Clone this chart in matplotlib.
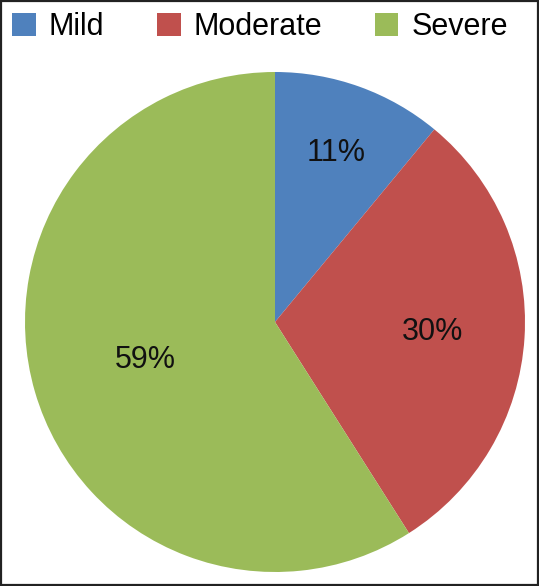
import matplotlib.pyplot as plt
import numpy as np
from matplotlib.patches import Rectangle

labels = ['Mild', 'Moderate', 'Severe']
shares = [11, 30, 59]
colors = ['#4F81BD', '#C0504D', '#9BBB59']

plt.rcParams['font.family'] = ['Liberation Sans', 'DejaVu Sans']

W, H = 539, 586
fig = plt.figure(figsize=(W / 100, H / 100), dpi=100)

# pie centre at (275, 322) px from top-left, radius 250 px
cx, cy, r = 275, 322, 250
ax = fig.add_axes([(cx - r) / W, (H - cy - r) / H, 2 * r / W, 2 * r / H])
wedges, _ = ax.pie(shares, colors=colors, startangle=90, counterclock=False,
                   wedgeprops={'linewidth': 0})
ax.set_xlim(-1, 1)
ax.set_ylim(-1, 1)
ax.axis('off')

# percentage labels, distance per wedge like the original
label_dist = [0.72, 0.63, 0.54]
for w, v, d in zip(wedges, shares, label_dist):
    mid = np.deg2rad((w.theta1 + w.theta2) / 2)
    ax.text(d * np.cos(mid), d * np.sin(mid), f'{v}%', fontsize=22,
            ha='center', va='center', color='#111111')

fig.legend(wedges, labels, loc='upper left', bbox_to_anchor=(12 / W, 1 - 12 / H),
           ncol=3, frameon=False, fontsize=22, borderpad=0, borderaxespad=0,
           handlelength=0.78, handleheight=0.78, handletextpad=0.42,
           columnspacing=1.72)

# dark frame around the whole picture
fig.patches.append(Rectangle((0.001, 0.001), 0.997, 0.997, transform=fig.transFigure,
                             fill=False, edgecolor='#222222', linewidth=1.6))

fig.savefig('out.png', dpi=100)
